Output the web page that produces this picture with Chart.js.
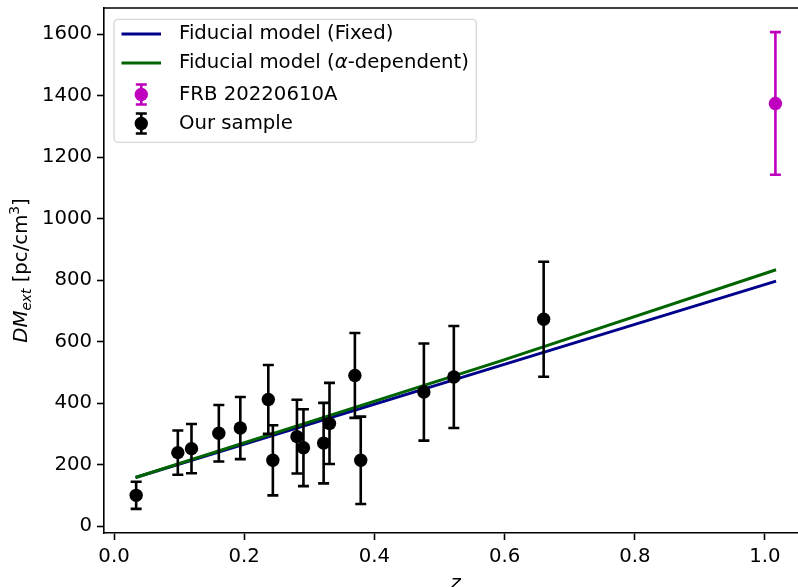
<!DOCTYPE html>
<html>
<head>
<meta charset="utf-8">
<script src="https://cdn.jsdelivr.net/npm/chart.js@4"></script>
<style>
  html, body { margin: 0; padding: 0; background: #fff; overflow: hidden; }
  #wrap { width: 798px; height: 587px; position: relative; }
</style>
</head>
<body>
<div id="wrap"><canvas id="dm-z"></canvas></div>
<script>
// ====================================================== data

// our sample (z, DM_ext, symmetric 1-sigma error)
let sampleZ   = [0.034, 0.098, 0.119, 0.161, 0.194, 0.237, 0.244, 0.281, 0.291, 0.322, 0.331, 0.370, 0.379, 0.476, 0.522, 0.660];
let sampleDM  = [100, 239, 252, 302, 319, 412, 214, 291, 255, 270, 334, 490, 214, 436, 485, 673];
let sampleErr = [44, 72, 80, 92, 101, 112, 114, 120, 125, 131, 132, 138, 142, 158, 166, 187];

// FRB 20220610A
let frbZ   = [1.016];
let frbDM  = [1375];
let frbErr = [232];

// fiducial models
let modelZ   = [0.033, 0.592, 1.017];
let fixedDM  = [158, 521, 797];
let alphaDM  = [158, 536, 834];

// axis ticks
let xTicks = [0.0, 0.2, 0.4, 0.6, 0.8, 1.0];
let yTicks = [0, 200, 400, 600, 800, 1000, 1200, 1400, 1600];

const FONT = "'DejaVu Sans', 'Liberation Sans', sans-serif";
const FS = 19.7;

function pts(xs, ys) {
  return xs.map((v, i) => ({ x: v, y: ys[i] }));
}

// no extra room for edge tick labels, the plot fills the canvas like the original
function noPad(scale) {
  scale.paddingTop = 0;
  scale.paddingBottom = 0;
  scale.paddingLeft = 0;
  scale.paddingRight = 0;
}

// ====================================================== error bars plugin
const errorBars = {
  id: 'errorBars',
  beforeDatasetDraw(chart, args) {
    const ds = chart.data.datasets[args.index];
    if (!ds.errors) return;
    const xs = chart.scales.x, ys = chart.scales.y;
    const ctx = chart.ctx;
    ctx.save();
    ctx.strokeStyle = ds.barColor;
    ctx.lineWidth = 2.6;
    ds.data.forEach((p, i) => {
      const px = xs.getPixelForValue(p.x);
      const top = ys.getPixelForValue(p.y + ds.errors[i]);
      const bot = ys.getPixelForValue(p.y - ds.errors[i]);
      ctx.beginPath();
      ctx.moveTo(px, top); ctx.lineTo(px, bot);
      ctx.moveTo(px - 5.5, top); ctx.lineTo(px + 5.5, top);
      ctx.moveTo(px - 5.5, bot); ctx.lineTo(px + 5.5, bot);
      ctx.stroke();
    });
    ctx.restore();
  }
};

// ====================================================== frame, labels, legend
const extras = {
  id: 'extras',
  afterDraw(chart) {
    const ctx = chart.ctx;
    const a = chart.chartArea;
    ctx.save();

    // top spine (right spine is off the canvas)
    ctx.strokeStyle = '#000';
    ctx.lineWidth = 1.6;
    ctx.beginPath();
    ctx.moveTo(a.left, a.top); ctx.lineTo(a.right, a.top);
    ctx.stroke();

    ctx.fillStyle = '#000';

    // x label
    ctx.font = 'italic ' + FS + 'px ' + FONT;
    ctx.textAlign = 'center';
    ctx.textBaseline = 'alphabetic';
    ctx.fillText('z', 455.6, 589);

    // y label: DM_ext [pc/cm^3]
    ctx.save();
    ctx.translate(27, (a.top + a.bottom) / 2);
    ctx.rotate(-Math.PI / 2);
    ctx.textAlign = 'left';
    const small = FS * 0.7;
    const parts = [
      { t: 'DM', f: 'italic ' + FS + 'px ' + FONT, dy: 0 },
      { t: 'ext', f: 'italic ' + small + 'px ' + FONT, dy: 4 },
      { t: ' [pc/cm', f: FS + 'px ' + FONT, dy: 0 },
      { t: '3', f: small + 'px ' + FONT, dy: -8 },
      { t: ']', f: FS + 'px ' + FONT, dy: 0 }
    ];
    let total = 0;
    parts.forEach(p => { ctx.font = p.f; p.w = ctx.measureText(p.t).width; total += p.w; });
    let cx = -total / 2;
    parts.forEach(p => { ctx.font = p.f; ctx.fillText(p.t, cx, p.dy); cx += p.w; });
    ctx.restore();

    // legend box
    ctx.beginPath();
    ctx.roundRect(114, 19.3, 362.3, 123, 4);
    ctx.fillStyle = 'rgba(255,255,255,0.8)';
    ctx.fill();
    ctx.strokeStyle = 'rgba(204,204,204,0.8)';
    ctx.lineWidth = 1.3;
    ctx.stroke();

    const hx0 = 121.5, hx1 = 161, hc = 141.3, tx = 179;
    const rows = [34, 63, 94.5, 123.5];

    // line handles
    ctx.lineWidth = 2.95;
    ctx.strokeStyle = '#00008b';
    ctx.beginPath(); ctx.moveTo(hx0, rows[0]); ctx.lineTo(hx1, rows[0]); ctx.stroke();
    ctx.strokeStyle = '#006400';
    ctx.beginPath(); ctx.moveTo(hx0, rows[1]); ctx.lineTo(hx1, rows[1]); ctx.stroke();

    // errorbar handles
    [['#bf00bf', rows[2]], ['#000000', rows[3]]].forEach(([c, y]) => {
      ctx.strokeStyle = c;
      ctx.fillStyle = c;
      ctx.lineWidth = 2.6;
      ctx.beginPath();
      ctx.moveTo(hc, y - 10); ctx.lineTo(hc, y + 10);
      ctx.moveTo(hc - 5.5, y - 10); ctx.lineTo(hc + 5.5, y - 10);
      ctx.moveTo(hc - 5.5, y + 10); ctx.lineTo(hc + 5.5, y + 10);
      ctx.stroke();
      ctx.beginPath();
      ctx.arc(hc, y, 6.7, 0, Math.PI * 2);
      ctx.fill();
    });

    // legend text
    ctx.fillStyle = '#000';
    ctx.textAlign = 'left';
    ctx.textBaseline = 'middle';
    const normal = FS + 'px ' + FONT, ital = 'italic ' + FS + 'px ' + FONT;
    ctx.font = normal;
    ctx.fillText('Fiducial model (Fixed)', tx, rows[0]);
    let x = tx;
    [['Fiducial model (', normal], ['\u03b1', ital], ['-dependent)', normal]].forEach(([t, f]) => {
      ctx.font = f;
      ctx.fillText(t, x, rows[1]);
      x += ctx.measureText(t).width;
    });
    ctx.font = normal;
    ctx.fillText('FRB 20220610A', tx, rows[2]);
    ctx.fillText('Our sample', tx, rows[3]);

    ctx.restore();
  }
};

// ====================================================== chart
let dmCanvas = document.getElementById('dm-z');

let dmData = {
  datasets: [
    {
      label: 'Fiducial model (Fixed)',
      data: pts(modelZ, fixedDM),
      showLine: true,
      borderColor: '#00008b',
      borderWidth: 2.95,
      pointRadius: 0,
      order: 3
    },
    {
      label: 'Fiducial model (\u03b1-dependent)',
      data: pts(modelZ, alphaDM),
      showLine: true,
      borderColor: '#006400',
      borderWidth: 2.95,
      pointRadius: 0,
      order: 2
    },
    {
      label: 'FRB 20220610A',
      data: pts(frbZ, frbDM),
      errors: frbErr,
      barColor: '#bf00bf',
      pointRadius: 6.7,
      pointBackgroundColor: '#bf00bf',
      pointBorderColor: '#bf00bf',
      pointBorderWidth: 0,
      order: 1
    },
    {
      label: 'Our sample',
      data: pts(sampleZ, sampleDM),
      errors: sampleErr,
      barColor: '#000000',
      pointRadius: 6.7,
      pointBackgroundColor: '#000000',
      pointBorderColor: '#000000',
      pointBorderWidth: 0,
      order: 1
    }
  ]
};

let tickFont = { family: FONT, size: FS };

let dmOptions = {
  responsive: true,
  maintainAspectRatio: false,
  devicePixelRatio: 1,
  animation: false,
  layout: { autoPadding: false, padding: { top: 8, left: 0, right: 0, bottom: 0 } },
  plugins: {
    legend: { display: false },
    tooltip: { enabled: false }
  },
  scales: {
    x: {
      type: 'linear',
      min: -0.0154,
      max: 1.0507,
      afterFit(scale) { scale.height = 54; noPad(scale); },
      afterBuildTicks(scale) { scale.ticks = xTicks.map(v => ({ value: v })); },
      ticks: {
        font: tickFont,
        color: '#000',
        padding: 5,
        maxRotation: 0,
        callback: v => v.toFixed(1)
      },
      grid: { drawOnChartArea: false, tickLength: 7, tickWidth: 1.6, tickColor: '#000' },
      border: { color: '#000', width: 1.6 }
    },
    y: {
      type: 'linear',
      min: -22.5,
      max: 1685.5,
      afterFit(scale) { scale.width = 104; noPad(scale); },
      afterBuildTicks(scale) { scale.ticks = yTicks.map(v => ({ value: v })); },
      ticks: {
        font: tickFont,
        color: '#000',
        padding: 5,
        callback: v => String(v)
      },
      grid: { drawOnChartArea: false, tickLength: 7, tickWidth: 1.6, tickColor: '#000' },
      border: { color: '#000', width: 1.6 }
    }
  }
};

let dmChart = new Chart(dmCanvas, {
  type: 'scatter',
  data: dmData,
  options: dmOptions,
  plugins: [errorBars, extras]
});
</script>
</body>
</html>
